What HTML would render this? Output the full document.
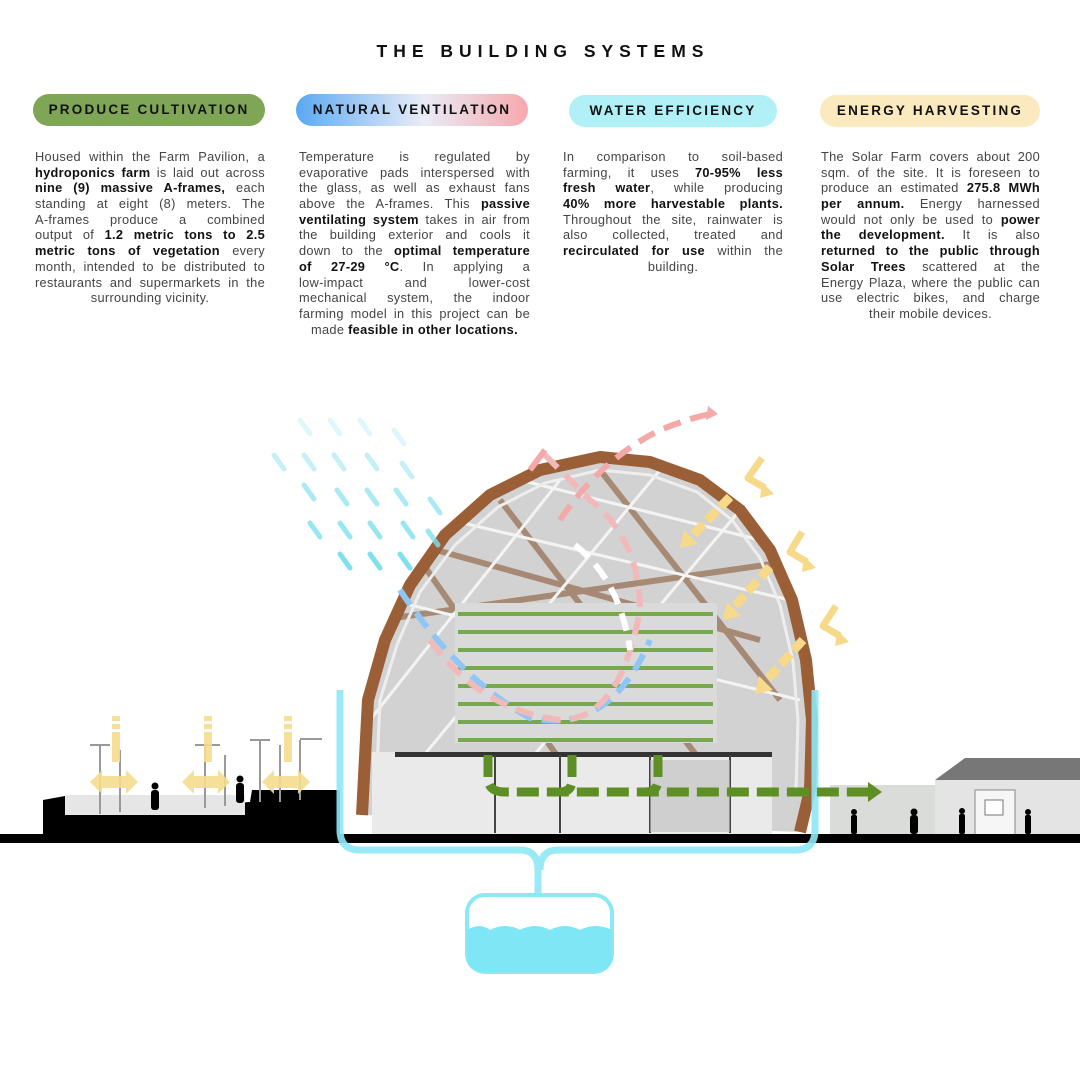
<!DOCTYPE html>
<html><head><meta charset="utf-8"><style>
*{margin:0;padding:0;box-sizing:border-box}
body{width:1080px;height:1080px;background:#fff;position:relative;overflow:hidden;font-family:"Liberation Sans",sans-serif;color:#333}
h1{position:absolute;top:41px;left:0;width:1080px;text-align:center;font-size:17.5px;font-weight:bold;letter-spacing:6px;color:#111;padding-left:6px}
.pill{position:absolute;height:32px;border-radius:16px;text-align:center;line-height:32px;font-size:13.5px;font-weight:bold;letter-spacing:2.2px;color:#111}
.txt{position:absolute;font-size:12.8px;line-height:15.7px;color:#444;letter-spacing:0.3px}
.txt div{text-align:justify;text-align-last:justify;white-space:nowrap;height:15.7px}
.txt div.c{text-align:center;text-align-last:center}
.txt b{color:#111}
svg{position:absolute;left:0;top:0}
</style></head><body>
<h1>THE BUILDING SYSTEMS</h1>
<div class="pill" style="left:33px;top:94px;width:232px;background:#7fa656">PRODUCE CULTIVATION</div>
<div class="pill" style="left:296px;top:94px;width:232px;background:linear-gradient(90deg,#5aa9f2,#e9ecf8 55%,#f7a8ad)">NATURAL VENTILATION</div>
<div class="pill" style="left:569px;top:95px;width:208px;background:#b2f0f8">WATER EFFICIENCY</div>
<div class="pill" style="left:820px;top:95px;width:220px;background:#fbe9bf">ENERGY HARVESTING</div>

<div class="txt" style="left:35px;top:149px;width:230px">
<div>Housed within the Farm Pavilion, a</div>
<div><b>hydroponics farm</b> is laid out across</div>
<div><b>nine (9) massive A-frames,</b> each</div>
<div>standing at eight (8) meters. The</div>
<div>A-frames produce a combined</div>
<div>output of <b>1.2 metric tons to 2.5</b></div>
<div><b>metric tons of vegetation</b> every</div>
<div>month, intended to be distributed to</div>
<div>restaurants and supermarkets in the</div>
<div class="c">surrounding vicinity.</div>
</div>
<div class="txt" style="left:299px;top:149px;width:231px">
<div>Temperature is regulated by</div>
<div>evaporative pads interspersed with</div>
<div>the glass, as well as exhaust fans</div>
<div>above the A-frames. This <b>passive</b></div>
<div><b>ventilating system</b> takes in air from</div>
<div>the building exterior and cools it</div>
<div>down to the <b>optimal temperature</b></div>
<div><b>of 27-29 °C</b>. In applying a</div>
<div>low-impact and lower-cost</div>
<div>mechanical system, the indoor</div>
<div>farming model in this project can be</div>
<div class="c">made <b>feasible in other locations.</b></div>
</div>
<div class="txt" style="left:563px;top:149px;width:220px">
<div>In comparison to soil-based</div>
<div>farming, it uses <b>70-95% less</b></div>
<div><b>fresh water</b>, while producing</div>
<div><b>40% more harvestable plants.</b></div>
<div>Throughout the site, rainwater is</div>
<div>also collected, treated and</div>
<div><b>recirculated for use</b> within the</div>
<div class="c">building.</div>
</div>
<div class="txt" style="left:821px;top:149px;width:219px">
<div>The Solar Farm covers about 200</div>
<div>sqm. of the site. It is foreseen to</div>
<div>produce an estimated <b>275.8 MWh</b></div>
<div><b>per annum.</b> Energy harnessed</div>
<div>would not only be used to <b>power</b></div>
<div><b>the development.</b> It is also</div>
<div><b>returned to the public through</b></div>
<div><b>Solar Trees</b> scattered at the</div>
<div>Energy Plaza, where the public can</div>
<div>use electric bikes, and charge</div>
<div class="c">their mobile devices.</div>
</div>

<svg width="1080" height="1080" viewBox="0 0 1080 1080">
<defs>
<clipPath id="dome"><path d="M362,815 L368,700 L385,640 L410,585 L445,535 L490,495 L540,470 L600,457 L650,462 L700,480 L740,510 L770,550 L792,600 L806,660 L812,720 L810,790 L800,832 Z"/></clipPath>
</defs>
<rect x="830" y="785" width="110" height="50" fill="#d9dcd8"/>
<polygon points="935,780 965,758 1080,758 1080,780" fill="#777"/>
<rect x="935" y="780" width="145" height="55" fill="#e4e4e4"/>
<rect x="975" y="790" width="40" height="45" fill="#f6f6f6" stroke="#888"/>
<rect x="985" y="800" width="18" height="15" fill="#fff" stroke="#777"/>
<g clip-path="url(#dome)">
<rect x="350" y="450" width="470" height="390" fill="#d2d2d2"/>
<g stroke="#8a5a36" stroke-width="6" opacity="0.6">
<line x1="420" y1="560" x2="560" y2="760"/><line x1="500" y1="500" x2="700" y2="760"/><line x1="600" y1="470" x2="780" y2="700"/>
<line x1="380" y1="620" x2="800" y2="560"/><line x1="400" y1="540" x2="760" y2="640"/>
</g>
<g stroke="#f4f4f4" stroke-width="3">
<line x1="370" y1="720" x2="560" y2="480"/><line x1="420" y1="760" x2="660" y2="470"/><line x1="530" y1="760" x2="740" y2="510"/>
<line x1="390" y1="600" x2="800" y2="700"/><line x1="450" y1="520" x2="790" y2="600"/><line x1="520" y1="480" x2="760" y2="540"/>
</g>
<rect x="455" y="603" width="262" height="140" fill="#dadada"/>
<g fill="#5e9a2c">
<rect x="458" y="612" width="255" height="4" opacity=".8"/><rect x="458" y="630" width="255" height="4" opacity=".8"/><rect x="458" y="648" width="255" height="4" opacity=".8"/><rect x="458" y="666" width="255" height="4" opacity=".8"/><rect x="458" y="684" width="255" height="4" opacity=".8"/><rect x="458" y="702" width="255" height="4" opacity=".8"/><rect x="458" y="720" width="255" height="4" opacity=".8"/><rect x="458" y="738" width="255" height="4" opacity=".8"/>
</g>
</g>
<path d="M362,815 L368,700 L385,640 L410,585 L445,535 L490,495 L540,470 L600,457 L650,462 L700,480 L740,510 L770,550 L792,600 L806,660 L812,720 L810,790 L800,832" fill="none" stroke="#9b5f37" stroke-width="12" stroke-linejoin="round"/>
<path d="M375,815 L380,700 L397,645 L420,592 L455,545 L498,507 L545,483 L600,470 L650,475 L697,492 L732,520 L760,558 L780,605 L793,662 L798,720 L796,790" fill="none" stroke="#eee" stroke-width="3"/>
<rect x="372" y="752" width="400" height="82" fill="#eaeaea"/>
<rect x="395" y="752" width="377" height="5" fill="#333"/>
<g stroke="#444" stroke-width="2"><line x1="495" y1="755" x2="495" y2="833"/><line x1="560" y1="755" x2="560" y2="833"/><line x1="650" y1="755" x2="650" y2="833"/><line x1="730" y1="755" x2="730" y2="833"/></g>
<rect x="650" y="760" width="80" height="72" fill="#bdbdbd" opacity=".6"/>
<path d="M43,800 L65,796 L65,815 L250,802 L252,790 L340,790 L340,835 L43,835 Z" fill="#000"/>
<rect x="65" y="795" width="180" height="20" fill="#e6e6e6"/>
<rect x="0" y="834" width="1080" height="9" fill="#000"/>
<g stroke="#999" stroke-width="2">
<line x1="100" y1="745" x2="100" y2="814"/><line x1="120" y1="750" x2="120" y2="812"/><line x1="205" y1="745" x2="205" y2="808"/><line x1="225" y1="755" x2="225" y2="806"/><line x1="260" y1="740" x2="260" y2="802"/><line x1="280" y1="745" x2="280" y2="802"/><line x1="300" y1="740" x2="300" y2="800"/>
<line x1="90" y1="745" x2="110" y2="745"/><line x1="195" y1="745" x2="220" y2="745"/><line x1="250" y1="740" x2="270" y2="740"/><line x1="300" y1="739" x2="322" y2="739"/>
</g>
<g fill="#f6dc8e" opacity=".9">
<rect x="112" y="716" width="8" height="5"/><rect x="112" y="724" width="8" height="5"/><rect x="112" y="732" width="8" height="30"/><polygon points="90,782 102,770 102,776 126,776 126,770 138,782 126,794 126,788 102,788 102,794"/>
<rect x="204" y="716" width="8" height="5"/><rect x="204" y="724" width="8" height="5"/><rect x="204" y="732" width="8" height="30"/><polygon points="182,782 194,770 194,776 218,776 218,770 230,782 218,794 218,788 194,788 194,794"/>
<rect x="284" y="716" width="8" height="5"/><rect x="284" y="724" width="8" height="5"/><rect x="284" y="732" width="8" height="30"/><polygon points="262,782 274,770 274,776 298,776 298,770 310,782 298,794 298,788 274,788 274,794"/>
</g>
<g fill="#000">
<circle cx="155" cy="786" r="3.5"/><rect x="151" y="790" width="8" height="20" rx="3"/>
<circle cx="240" cy="779" r="3.5"/><rect x="236" y="783" width="8" height="20" rx="3"/>
<circle cx="854" cy="812" r="3"/><rect x="851" y="815" width="6" height="19" rx="2"/>
<circle cx="914" cy="812" r="3.5"/><rect x="910" y="815" width="8" height="19" rx="3"/>
<circle cx="962" cy="811" r="3"/><rect x="959" y="814" width="6" height="20" rx="2"/>
<circle cx="1028" cy="812" r="3"/><rect x="1025" y="815" width="6" height="19" rx="2"/>
</g>
<g stroke="#7fe0ef" stroke-width="5" stroke-linecap="round">
<g opacity=".25"><line x1="300" y1="420" x2="310" y2="434"/><line x1="330" y1="420" x2="340" y2="434"/><line x1="360" y1="420" x2="370" y2="434"/><line x1="394" y1="430" x2="404" y2="444"/></g>
<g opacity=".45"><line x1="274" y1="455" x2="284" y2="469"/><line x1="304" y1="455" x2="314" y2="469"/><line x1="334" y1="455" x2="344" y2="469"/><line x1="367" y1="455" x2="377" y2="469"/><line x1="402" y1="463" x2="412" y2="477"/></g>
<g opacity=".65"><line x1="304" y1="485" x2="314" y2="499"/><line x1="337" y1="490" x2="347" y2="504"/><line x1="367" y1="490" x2="377" y2="504"/><line x1="396" y1="490" x2="406" y2="504"/><line x1="430" y1="499" x2="440" y2="513"/></g>
<g opacity=".8"><line x1="310" y1="523" x2="320" y2="537"/><line x1="340" y1="523" x2="350" y2="537"/><line x1="370" y1="523" x2="380" y2="537"/><line x1="403" y1="523" x2="413" y2="537"/><line x1="428" y1="531" x2="438" y2="545"/></g>
<g><line x1="340" y1="554" x2="350" y2="568"/><line x1="370" y1="554" x2="380" y2="568"/><line x1="400" y1="554" x2="410" y2="568"/></g>
</g>
<g fill="none" stroke-width="6" stroke-dasharray="18 10">
<path d="M400,590 Q460,680 530,718 Q610,735 650,640" stroke="#8fc6f5"/>
<path d="M430,640 Q480,710 560,720 Q620,720 640,610 Q640,540 590,500 Q560,470 540,450" stroke="#f2b9bb"/>
<path d="M560,520 Q600,460 660,430 Q690,418 710,414" stroke="#f4a9a9"/>
<path d="M575,545 Q620,580 630,650" stroke="#fff"/>
</g>
<path d="M530,470 L545,450" stroke="#f4a9a9" stroke-width="6"/>
<polygon points="708,406 718,414 706,420" fill="#f4a9a9"/>
<g stroke="#f7d98a" stroke-width="9" stroke-dasharray="14 5" fill="none">
<line x1="730" y1="497" x2="690" y2="538"/><line x1="770" y1="567" x2="733" y2="608"/><line x1="803" y1="640" x2="765" y2="682"/>
</g>
<g fill="#f7d98a">
<polygon points="680,548 684,530 698,544"/><polygon points="723,620 727,602 741,616"/><polygon points="755,694 759,676 773,690"/>
</g>
<g stroke="#f7d98a" stroke-width="7" fill="none" stroke-linejoin="round">
<path d="M762,458 L748,478 L765,488"/><path d="M802,532 L790,552 L807,562"/><path d="M836,606 L823,626 L840,636"/>
</g>
<g fill="#f7d98a">
<polygon points="762,482 774,494 760,498"/><polygon points="804,556 816,568 802,572"/><polygon points="837,630 849,642 835,646"/>
</g>
<g fill="none" stroke="#8de8f6" stroke-width="7" opacity=".9">
<path d="M340,690 L340,830 Q340,850 360,850 L520,850 Q538,850 538,870 L538,930"/>
<path d="M815,690 L815,830 Q815,850 795,850 L558,850 Q540,850 540,870"/>
</g>
<rect x="467" y="895" width="145" height="77" rx="18" fill="#fff" stroke="#8de8f6" stroke-width="4"/>
<path d="M467,930 Q480,922 490,930 Q505,922 520,930 Q535,922 550,930 Q565,922 580,930 Q595,922 612,930 L612,955 Q612,972 594,972 L485,972 Q467,972 467,955 Z" fill="#7fe6f5"/>
<g stroke="#5e8f24" stroke-width="9" fill="none" stroke-dasharray="22 8">
<path d="M488,755 L488,778 Q488,792 505,792 L870,792"/>
<path d="M572,755 L572,780 Q572,792 560,792"/><path d="M658,755 L658,780 Q658,792 645,792"/>
</g>
<polygon points="868,782 882,792 868,802" fill="#5e8f24"/>
</svg>
</body></html>
